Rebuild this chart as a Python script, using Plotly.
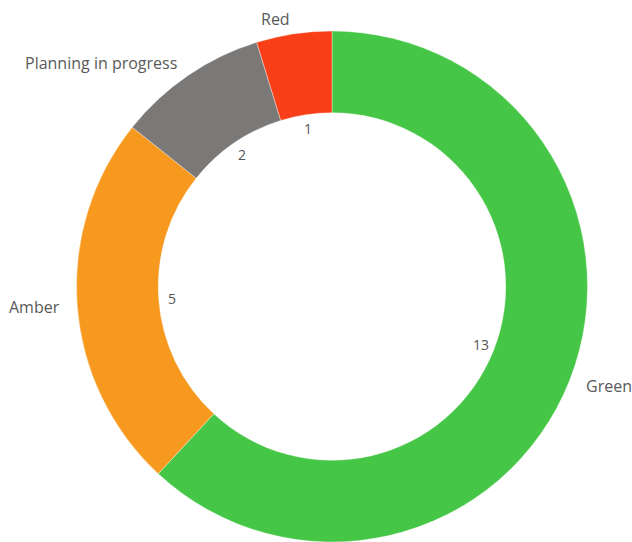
import math
import plotly.graph_objects as go

categories = ["Green", "Amber", "Planning in progress", "Red"]
values = [13, 5, 2, 1]
colors = ["#46C646", "#F7991F", "#7B7977", "#F93F17"]

W, H = 632, 542
cx, cy = 332, 286.5          # pixel centre of the donut (from top-left)
R = 255.5                    # outer radius in px

fig = go.Figure(go.Pie(
    labels=categories,
    values=values,
    marker=dict(colors=colors, line=dict(color="rgba(255,255,255,0.6)", width=0.6)),
    hole=0.68,
    sort=False,
    direction="clockwise",
    rotation=0,
    textinfo="none",
    hoverinfo="label+value",
    showlegend=False,
    domain=dict(x=[(cx - R) / W, (cx + R) / W], y=[0, (H - (cy - R)) / H]),
))

total = sum(values)
annotations = []
cum = 0
for cat, v in zip(categories, values):
    mid = (cum + v / 2) / total * 2 * math.pi
    cum += v
    sx, sy = math.sin(mid), math.cos(mid)
    rv = 160
    annotations.append(dict(
        x=(cx + sx * rv) / W, y=(H - (cy - sy * rv)) / H, xref="paper", yref="paper",
        text=str(v), showarrow=False, xanchor="center", yanchor="middle",
        font=dict(size=14, color="#555555")))
    ro = 271
    xa = "left" if sx > 0 else "right"
    annotations.append(dict(
        x=(cx + sx * ro) / W, y=(H - (cy - sy * ro)) / H, xref="paper", yref="paper",
        text=cat, showarrow=False, xanchor=xa, yanchor="middle",
        font=dict(size=16, color="#595959")))

fig.update_layout(
    width=W, height=H,
    margin=dict(l=0, r=0, t=0, b=0),
    paper_bgcolor="white",
    font=dict(family="Open Sans"),
    annotations=annotations,
)

fig.write_html("out.html",
               config={"displayModeBar": False},
               post_script="document.body.style.margin='0';document.body.style.overflow='hidden';")
